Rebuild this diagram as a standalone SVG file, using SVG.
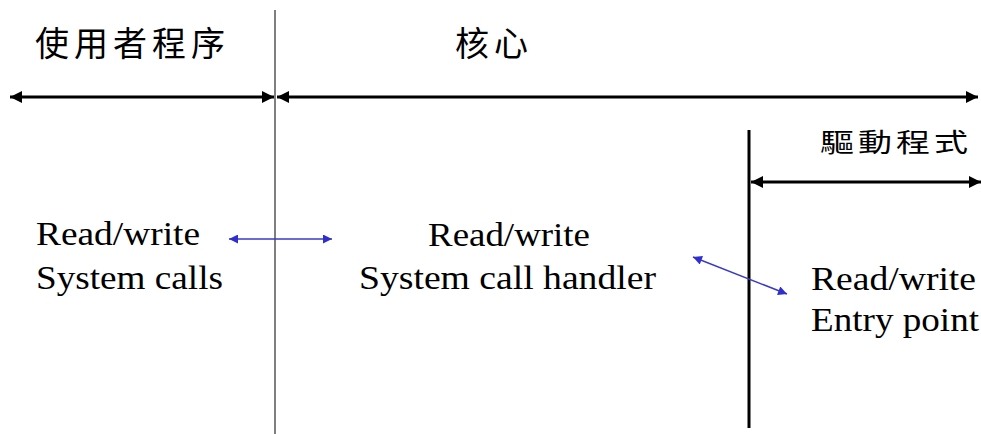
<svg xmlns="http://www.w3.org/2000/svg" width="981" height="434" viewBox="0 0 981 434">
  <defs>
    <marker id="blk" viewBox="0 0 10 10" refX="10" refY="5" markerUnits="userSpaceOnUse" markerWidth="15" markerHeight="12" orient="auto-start-reverse">
      <path d="M0,0 L10,5 L0,10 z" fill="#000"/>
    </marker>
    <marker id="blu" viewBox="0 0 10 10" refX="10" refY="5" markerUnits="userSpaceOnUse" markerWidth="12" markerHeight="9" orient="auto-start-reverse">
      <path d="M0,0 L10,5 L0,10 z" fill="#2f2fd0"/>
    </marker>
  </defs>
  <style>
    .cjk { font-family: "Noto Sans CJK TC", "Noto Sans CJK SC", sans-serif; font-size: 34px; font-weight: 400; fill: #000; letter-spacing: 5px; }
    .lat { font-family: "Liberation Serif", "Times New Roman", serif; font-size: 33px; fill: #000; }
    .sep { stroke: #555; stroke-width: 1.5; }
    .bar { stroke: #000; stroke-width: 3; }
    .span { stroke: #000; stroke-width: 3; marker-start: url(#blk); marker-end: url(#blk); }
    .link { stroke: #3a3ac8; stroke-width: 1.5; marker-start: url(#blu); marker-end: url(#blu); }
  </style>
  <rect width="981" height="434" fill="#fff"/>

  <g id="user-region">
    <text class="cjk" x="35" y="56">使用者程序</text>
  </g>
  <g id="kernel-region">
    <text class="cjk" x="455" y="56">核心</text>
  </g>
  <g id="driver-region">
    <text class="cjk" transform="translate(820,152) scale(1,0.78)" x="0" y="0" style="letter-spacing:4px">驅動程式</text>
  </g>

  <g id="user-node">
    <text class="lat" x="36" y="245" textLength="164" lengthAdjust="spacingAndGlyphs">Read/write</text>
    <text class="lat" x="36" y="289" textLength="187" lengthAdjust="spacingAndGlyphs">System calls</text>
  </g>
  <g id="kernel-node">
    <text class="lat" x="428" y="246" textLength="162" lengthAdjust="spacingAndGlyphs">Read/write</text>
    <text class="lat" x="359" y="289" textLength="297" lengthAdjust="spacingAndGlyphs">System call handler</text>
  </g>
  <g id="driver-node">
    <text class="lat" x="811" y="290" textLength="165" lengthAdjust="spacingAndGlyphs">Read/write</text>
    <text class="lat" x="811" y="331" textLength="168" lengthAdjust="spacingAndGlyphs">Entry point</text>
  </g>

  <g id="connectors">
    <line class="sep" x1="275" y1="10" x2="275" y2="434"/>
    <line class="bar" x1="749" y1="130" x2="749" y2="428"/>
    <line class="span" x1="10" y1="97" x2="274" y2="97"/>
    <line class="span" x1="277" y1="97" x2="978" y2="97"/>
    <line class="span" x1="751" y1="182" x2="981" y2="182"/>
    <line class="link" x1="229" y1="239" x2="332" y2="239"/>
    <line class="link" x1="693" y1="257" x2="787" y2="294"/>
  </g>
</svg>
